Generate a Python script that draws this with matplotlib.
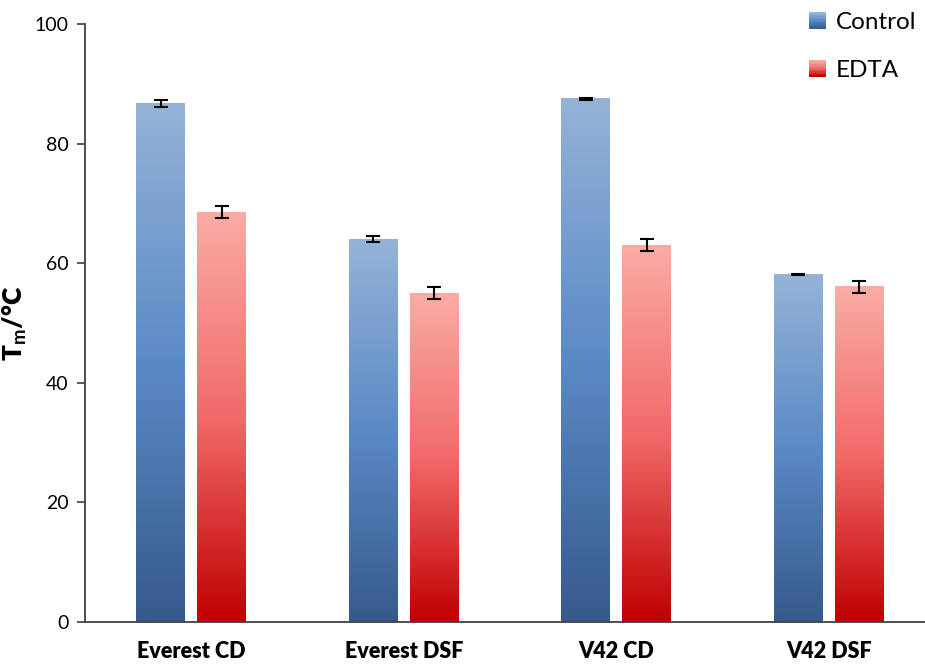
import numpy as np
import matplotlib
matplotlib.use('Agg')
import matplotlib.pyplot as plt
from matplotlib.colors import LinearSegmentedColormap
from matplotlib.patches import Rectangle
from matplotlib.legend_handler import HandlerBase

categories = ['Everest CD', 'Everest DSF', 'V42 CD', 'V42 DSF']
control = [86.7, 64.0, 87.5, 58.1]
control_err = [0.6, 0.5, 0.2, 0.1]
edta = [68.5, 55.0, 63.0, 56.1]
edta_err = [1.0, 1.0, 1.0, 1.0]
yticks = [0, 20, 40, 60, 80, 100]

plt.rcParams['font.family'] = ['Lato', 'DejaVu Sans']
plt.rcParams['mathtext.fontset'] = 'custom'
plt.rcParams['mathtext.rm'] = 'Lato'
plt.rcParams['mathtext.bf'] = 'Lato:bold'

blue_cmap = LinearSegmentedColormap.from_list('blue', ['#365a8c', '#5a8ac6', '#95b3d7'])
red_cmap = LinearSegmentedColormap.from_list('red', ['#c00000', '#f26a6a', '#f9aca4'])

fig = plt.figure(figsize=(9.25, 6.64), dpi=100)
ax = fig.add_axes([85 / 925, 1 - 622 / 664, 840 / 925, 598 / 664])

x = np.arange(len(categories))
width = 0.23
offset = 0.143
grad = np.linspace(0, 1, 256).reshape(-1, 1)


def gradient_bars(xs, heights, cmap):
    for xc, h in zip(xs, heights):
        ax.imshow(grad, cmap=cmap, origin='lower', aspect='auto',
                  extent=[xc - width / 2, xc + width / 2, 0, h], zorder=2)


gradient_bars(x - offset, control, blue_cmap)
gradient_bars(x + offset, edta, red_cmap)

ax.errorbar(x - offset, control, yerr=control_err, fmt='none', ecolor='black',
            elinewidth=1.5, capsize=5, capthick=1.5, zorder=3)
ax.errorbar(x + offset, edta, yerr=edta_err, fmt='none', ecolor='black',
            elinewidth=1.5, capsize=5, capthick=1.5, zorder=3)

ax.set_xlim(-0.5, -0.5 + 840 / 212.5)
ax.set_ylim(0, 100)
ax.set_yticks(yticks)
ax.set_xticks(x)
ax.set_xticklabels(categories, fontweight='heavy', fontsize=15.5)
ax.tick_params(axis='x', length=0, pad=14)
ax.tick_params(axis='y', direction='out', length=6, width=1.2, color='#404040',
               labelsize=14, pad=6)
ax.set_ylabel(r'T$_\mathbf{m}$/°C', fontweight='heavy', fontsize=19)
ax.yaxis.set_label_coords(-0.067, 0.5)
for s in ['top', 'right']:
    ax.spines[s].set_visible(False)
for s in ['left', 'bottom']:
    ax.spines[s].set_color('#404040')
    ax.spines[s].set_linewidth(1.3)


class GradientHandler(HandlerBase):
    def __init__(self, cmap):
        super().__init__()
        self.cmap = cmap

    def create_artists(self, legend, orig_handle, xdescent, ydescent,
                       width, height, fontsize, trans):
        n = 12
        side = height
        x0 = width - side
        arts = []
        for i in range(n):
            r = Rectangle((x0 - xdescent, -ydescent + side * i / n), side, side / n,
                          facecolor=self.cmap(i / (n - 1)), edgecolor='none',
                          transform=trans)
            arts.append(r)
        return arts


h1 = Rectangle((0, 0), 1, 1)
h2 = Rectangle((0, 0), 1, 1)
leg = ax.legend([h1, h2], ['Control', 'EDTA'], frameon=False, fontsize=17.5,
                handler_map={h1: GradientHandler(blue_cmap), h2: GradientHandler(red_cmap)},
                loc='upper left', bbox_to_anchor=(797 / 925, 1.0), bbox_transform=fig.transFigure,
                handlelength=0.7, handletextpad=0.4, labelspacing=1.1, borderaxespad=0.1)

fig.savefig('out.png', dpi=100)
